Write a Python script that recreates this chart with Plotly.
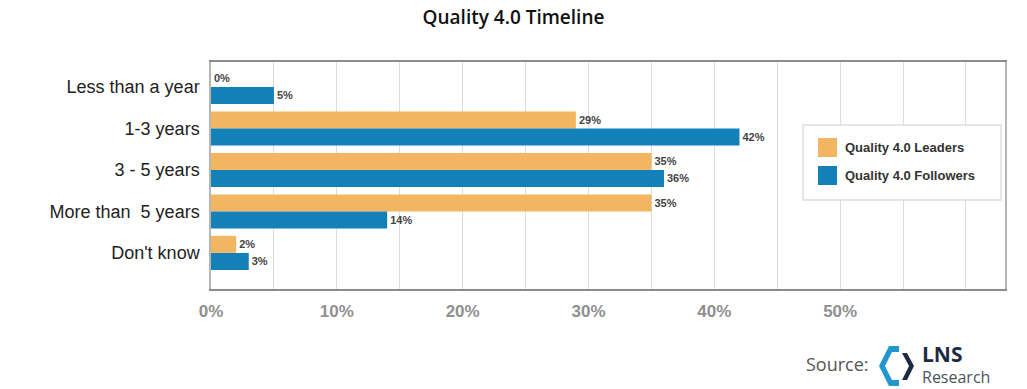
import plotly.graph_objects as go

categories = ["Less than a year", "1-3 years", "3 - 5 years", "More than  5 years", "Don't know"]
leaders = [0, 29, 35, 35, 2]
followers = [5, 42, 36, 14, 3]
series_names = ["Quality 4.0 Leaders", "Quality 4.0 Followers"]
tick_values = [0, 5, 10, 15, 20, 25, 30, 35, 40, 45, 50, 55, 60]
tick_labels = ["0%", "", "10%", "", "20%", "", "30%", "", "40%", "", "50%", "", ""]
title_text = "Quality 4.0 Timeline"

ORANGE = "#F2B561"
BLUE = "#1380B7"
NARROW = "Liberation Sans, Arial, sans-serif"

W, H = 1027, 389
ML, MR, MT, MB = 211, 22, 62, 100
PW, PH = W - ML - MR, H - MT - MB


def px(x):
    return (x - ML) / PW


def py(y):
    return (H - MB - y) / PH


fig = go.Figure()
for name, vals, col in [(series_names[0], leaders, ORANGE), (series_names[1], followers, BLUE)]:
    fig.add_trace(go.Bar(
        y=categories, x=vals, orientation="h", name=name,
        marker=dict(color=col, line=dict(width=0)),
        text=[f"{v}%" for v in vals], textposition="outside",
        textfont=dict(family=NARROW, size=11, color="#444444", weight="bold"),
        cliponaxis=False, showlegend=False,
    ))

fig.update_layout(
    width=W, height=H,
    margin=dict(l=ML, r=MR, t=MT, b=MB),
    paper_bgcolor="white", plot_bgcolor="white",
    barmode="group", bargap=0.18, bargroupgap=0.0,
    title=dict(text=title_text, x=0.5, xref="container", xanchor="center", y=1 - 17 / H, yanchor="middle",
               font=dict(family="Open Sans, sans-serif", size=19, color="#111111", weight=600)),
    xaxis=dict(range=[0, 63.1], tickvals=tick_values, ticktext=tick_labels,
               showgrid=True, gridcolor="#dcdcdc", gridwidth=1, zeroline=False,
               showline=True, linecolor="#8c8c8c", linewidth=2, mirror=True,
               ticks="", ticklabelstandoff=6,
               tickfont=dict(family=NARROW, size=17, color="#8f8f8f", weight="bold")),
    yaxis=dict(range=[4.87, -0.60], showgrid=False, zeroline=False,
               showline=True, linecolor="#b5b5b5", linewidth=1.5, mirror=True,
               ticks="", ticklabelstandoff=6,
               tickfont=dict(family=NARROW, size=18, color="#222222")),
)

# legend box
shapes = [
    dict(type="rect", xref="paper", yref="paper", x0=px(803), x1=px(1001), y0=py(200), y1=py(125),
         line=dict(color="#dddddd", width=1.5), fillcolor="white", layer="above"),
    dict(type="rect", xref="paper", yref="paper", x0=px(818), x1=px(837), y0=py(157), y1=py(138),
         line=dict(width=0), fillcolor=ORANGE, layer="above"),
    dict(type="rect", xref="paper", yref="paper", x0=px(818), x1=px(837), y0=py(185), y1=py(166),
         line=dict(width=0), fillcolor=BLUE, layer="above"),
]


def path(points):
    return "M " + " L ".join(f"{px(x)},{py(y)}" for x, y in points) + " Z"


# logo shapes
shapes.append(dict(type="path", xref="paper", yref="paper", layer="above",
                   path=path([(889, 346), (899, 346), (899, 352), (892, 352), (885, 366), (892, 380),
                              (899, 380), (899, 386), (889, 386), (879, 366)]),
                   fillcolor="#2196CF", line=dict(width=0)))
shapes.append(dict(type="path", xref="paper", yref="paper", layer="above",
                   path=path([(902, 353), (907, 353), (914, 366), (907, 380), (902, 380), (909, 366)]),
                   fillcolor="#1E2A40", line=dict(width=0)))
fig.update_layout(shapes=shapes)

annotations = [
    dict(text=series_names[0], x=px(843), y=py(147.5), xref="paper", yref="paper", xanchor="left",
         yanchor="middle", showarrow=False,
         font=dict(family=NARROW, size=13, color="#333333", weight="bold")),
    dict(text=series_names[1], x=px(843), y=py(175.5), xref="paper", yref="paper", xanchor="left",
         yanchor="middle", showarrow=False,
         font=dict(family=NARROW, size=13, color="#333333", weight="bold")),
    dict(text="Source:", x=px(871), y=py(364), xref="paper", yref="paper", xanchor="right",
         yanchor="middle", showarrow=False,
         font=dict(family="Open Sans, sans-serif", size=18, color="#555555")),
    dict(text="<span style='font-size:21px;color:#1E2A40'><b>LNS</b></span><br>Research",
         x=px(920), y=py(364), xref="paper", yref="paper", xanchor="left", align="left",
         yanchor="middle", showarrow=False,
         font=dict(family="Open Sans, sans-serif", size=16, color="#4a5560")),
]
fig.update_layout(annotations=annotations)

fig.write_html("out.html", config={"displayModeBar": False},
               post_script="document.body.style.margin='0px';")
